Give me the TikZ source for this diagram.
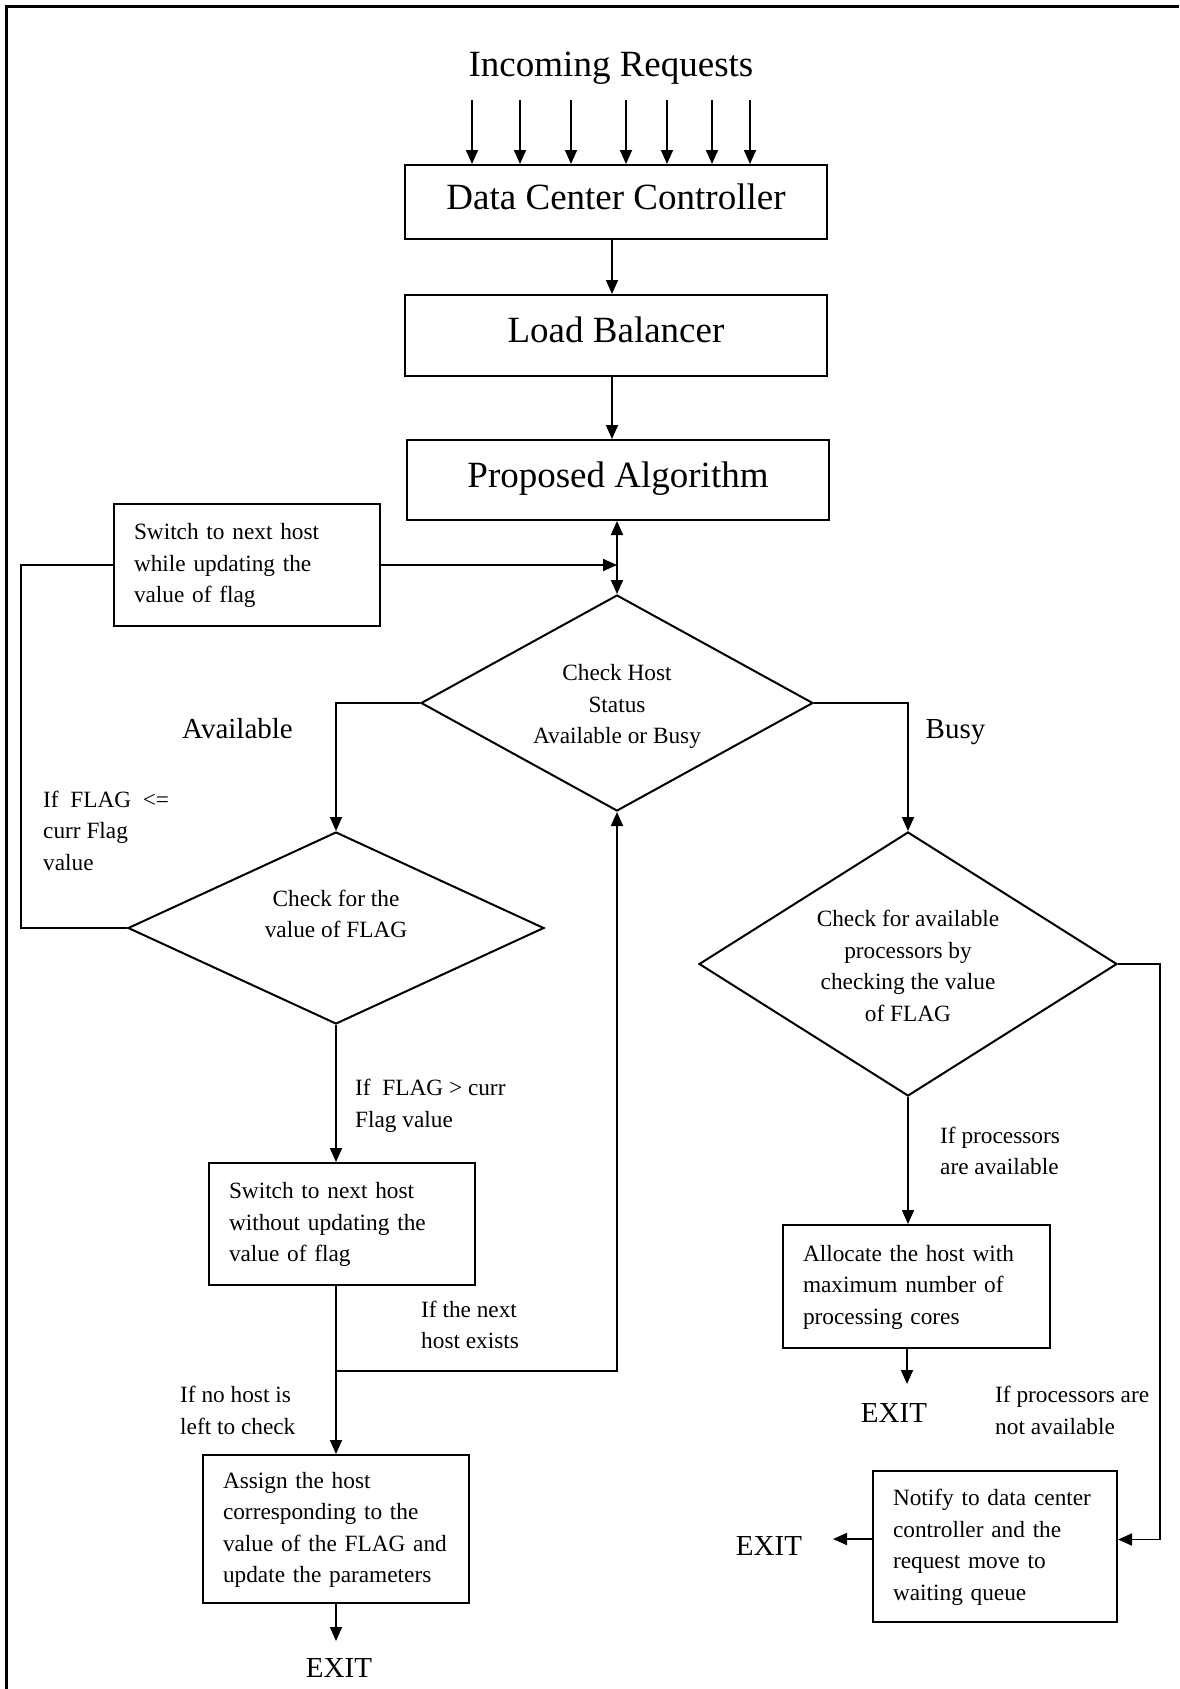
\documentclass[tikz,border=0pt]{standalone}
\usepackage{fontspec}
\setmainfont{Liberation Serif}
\usetikzlibrary{arrows.meta,shapes.geometric,calc}
\newcommand{\bigtext}{\fontsize{37}{44}\selectfont}
\newcommand{\midtext}{\fontsize{29}{35}\selectfont}
\newcommand{\smalltext}{\fontsize{23.3}{31.5}\selectfont}
\begin{document}
\begin{tikzpicture}[x=1pt,y=-1pt,line join=miter,
  tip/.tip={Triangle[length=14pt,width=12pt]},
  arr/.style={line width=1.8pt,-tip},
  link/.style={line width=1.8pt},
  bigbox/.style={draw,line width=2pt,minimum width=422pt,font=\bigtext,
      inner sep=0pt,text height=25pt,text depth=11pt},
  stepbox/.style={draw,line width=2pt,font=\smalltext,align=left,
      inner xsep=20pt,inner ysep=0pt,
      execute at begin node=\strut,execute at end node=\strut},
  decision/.style={draw,diamond,line width=2pt,font=\smalltext,align=center,
      inner sep=0pt,execute at begin node=\strut,execute at end node=\strut},
  note/.style={font=\smalltext,align=left,inner sep=0pt,anchor=north west,
      execute at begin node=\strut,execute at end node=\strut},
  tag/.style={font=\midtext,inner sep=0pt,anchor=base},
]
\useasboundingbox (0,0) rectangle (1179,1689);
% outer frame (top and left edges)
\draw[line width=3pt] (1179,6.5) -- (6.5,6.5) -- (6.5,1689);

% main chain
\node[font=\bigtext,inner sep=0pt,anchor=base] (inc) at (611,76) {Incoming Requests};
\node[bigbox,minimum height=74pt] (dcc) at (616,202) {Data Center Controller};
\node[bigbox,minimum height=81pt] (lb) at (616,335.5) {Load Balancer};
\node[bigbox,minimum height=80pt] (pa) at (618,480) {Proposed Algorithm};

% decisions
\node[decision,minimum width=392pt,minimum height=216pt,shape aspect=1.815,
  text height=91pt] (ch) at (617,703) {Check Host\\Status\\Available or Busy};
\node[decision,minimum width=416pt,minimum height=192pt,shape aspect=2.167,
  text depth=28.5pt] (ld) at (336,928) {Check for the\\value of FLAG};
\node[decision,minimum width=418pt,minimum height=264pt,shape aspect=1.583,
  text height=124pt] (rd) at (908,964)
  {Check for available\\processors by\\checking the value\\of FLAG};

% process steps
\node[stepbox,text width=226pt,minimum height=122pt] (sw) at (247,565)
  {Switch to next host\\while updating the\\value of flag};
\node[stepbox,text width=226pt,minimum height=122pt] (swo) at (342,1224)
  {Switch to next host\\without updating the\\value of flag};
\node[stepbox,text width=226pt,minimum height=148pt] (asg) at (336,1529)
  {Assign the host\\corresponding to the\\value of the FLAG and\\update the parameters};
\node[stepbox,text width=227pt,minimum height=123pt] (al) at (916.5,1286.5)
  {Allocate the host with\\maximum number of\\processing cores};
\node[stepbox,text width=204pt,minimum height=151pt] (nt) at (995,1546.5)
  {Notify to data center\\controller and the\\request move to\\waiting queue};

% branch labels
\node[tag] (avail) at (237.5,738) {Available};
\node[tag] (busy) at (955.5,738) {Busy};
\node[note] (c1) at (43,790.5) {If\ \ FLAG\ \ <=\\curr Flag\\value};
\node[note] (c2) at (355,1079) {If\ \ FLAG > curr\\Flag value};
\node[note] (c3) at (421,1300.5) {If the next\\host exists};
\node[note] (c4) at (180,1386) {If no host is\\left to check};
\node[note] (c5) at (940,1126.5) {If processors\\are available};
\node[note] (c6) at (995,1386) {If processors are\\not available};
\node[tag] (exit1) at (339,1677) {EXIT};
\node[tag] (exit2) at (894,1422) {EXIT};
\node[tag] (exit3) at (769,1555) {EXIT};

% incoming requests
\foreach \x [count=\i] in {472,520,571,626,667,712,750}{
  \coordinate (in\i) at (\x,100);
  \draw[arr] (in\i) -- (in\i |- dcc.north);
}
\draw[arr] ([xshift=-4pt]dcc.south) -- ([xshift=-4pt]lb.north);
\draw[arr] ([xshift=-4pt]lb.south) -- ([xshift=-4pt]lb.south |- pa.north);
\draw[link,tip-tip] (ch.north |- pa.south) -- (ch.north);

% available branch
\draw[arr] (ch.west) -| (ld.north);
\draw[link] (ld.west) -- ++(-106,0) |- (sw.west);
\draw[arr] (sw.east) -- (sw.east -| ch.north);
\draw[arr] (ld.south) -- (ld.south |- swo.north);
\coordinate (jn) at (336,1371);
\draw[link] (ld.south |- swo.south) -- (jn);
\draw[arr] (jn) -- (jn |- asg.north);
\draw[arr] (jn) -| (ch.south);
\coordinate (t1) at (336,1641);
\draw[arr] (asg.south) -- (t1);

% busy branch
\draw[arr] (ch.east) -| (rd.north);
\draw[arr] (rd.south) -- (rd.south |- al.north);
\coordinate (t2) at (907,1384);
\draw[arr] (t2 |- al.south) -- (t2);
\draw[arr] (rd.east) -- ++(42,0) |- ([yshift=7pt]nt.east);
\coordinate (t3) at (833,1539);
\draw[arr] (nt.west |- t3) -- (t3);
\end{tikzpicture}
\end{document}
